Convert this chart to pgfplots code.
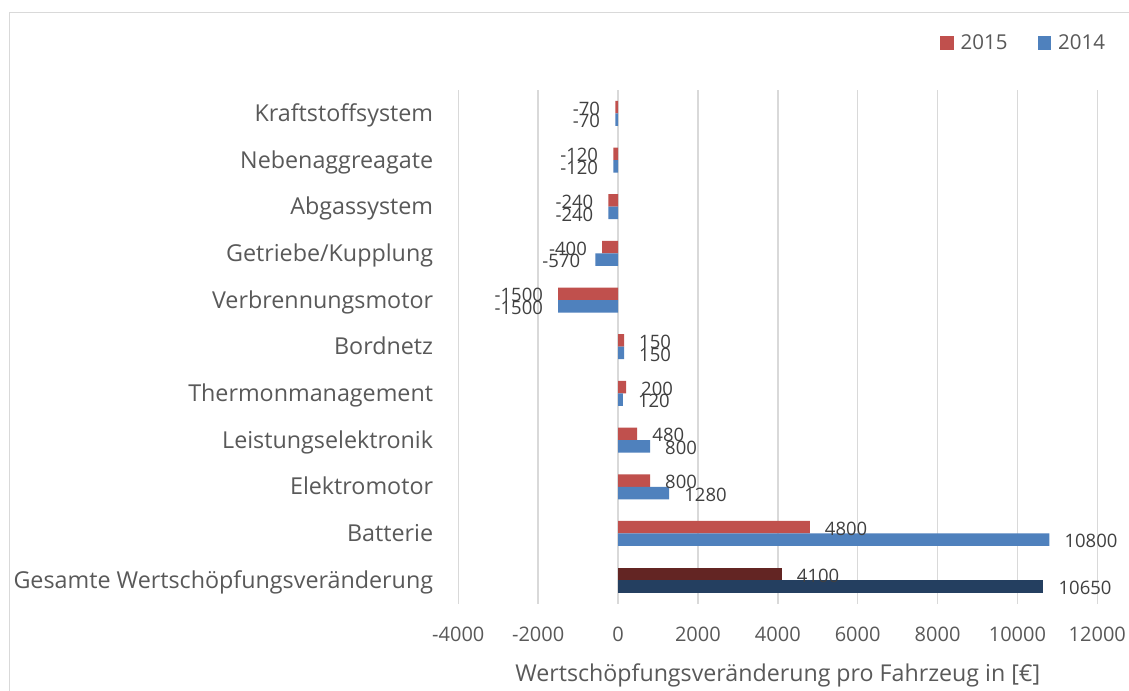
\documentclass[border=0pt]{standalone}
\usepackage{fontspec}
\setmainfont{Open Sans}
\usepackage{pgfplots}
\pgfplotsset{compat=1.18}
\definecolor{cRed}{HTML}{C0504D}
\definecolor{cBlue}{HTML}{4F81BD}
\definecolor{cDarkRed}{HTML}{632523}
\definecolor{cNavy}{HTML}{243F60}
\definecolor{gridgray}{HTML}{D9D9D9}
\definecolor{tickgray}{HTML}{595959}
\definecolor{labgray}{HTML}{404040}
\begin{document}
\begin{tikzpicture}
\useasboundingbox (0bp,0bp) rectangle (1129bp,691bp);
\fill[white] (0bp,0bp) rectangle (1129bp,691bp);
\draw[color=gridgray, line width=1.5bp] (9.5bp,-50bp) -- (9.5bp,678.5bp) -- (1200bp,678.5bp);
\begin{axis}[
  at={(458.3bp,87.5bp)}, anchor=south west,
  scale only axis, width=639bp, height=513.5bp,
  xbar, bar width=12.5bp,
  xmin=-4000, xmax=12000, ymin=-0.5, ymax=10.5,
  xtick={-4000,-2000,0,2000,4000,6000,8000,10000,12000},
  scaled x ticks=false,
  ytick={0,1,2,3,4,5,6,7,8,9,10},
  yticklabels={Gesamte Wertschöpfungsveränderung, Batterie, Elektromotor, Leistungselektronik, Thermonmanagement, Bordnetz, Verbrennungsmotor, Getriebe/Kupplung, Abgassystem, Nebenaggreagate, Kraftstoffsystem},
  axis line style={draw=none},
  major tick length=0pt,
  xmajorgrids, ymajorgrids=false,
  grid style={color=gridgray, line width=1.5bp},
  /pgf/number format/assume math mode=true,
  /pgf/number format/1000 sep={},
  xticklabel style={font=\fontsize{20bp}{24bp}\selectfont, text=tickgray, anchor=base, yshift=-38.2bp},
  yticklabel style={font=\fontsize{23.3bp}{27bp}\selectfont, text=tickgray, anchor=base east, inner xsep=0pt, xshift=-25bp, yshift=-8bp},
  xlabel={Wertschöpfungsveränderung pro Fahrzeug in [€]},
  xlabel style={font=\fontsize{23.2bp}{27bp}\selectfont, text=tickgray, anchor=base, at={(axis description cs:0.5,0)}, yshift=-77.5bp},
  nodes near coords={\pgfmathprintnumber[assume math mode=true,1000 sep={}]{\pgfplotspointmeta}},
  nodes near coords align={horizontal},
  every node near coord/.append style={font=\fontsize{18.5bp}{22bp}\selectfont, text=labgray, inner xsep=15bp, yshift=-1.5bp},
  legend style={at={(rel axis cs:0.7538,1.0917)}, anchor=west, draw=none, fill=none, inner sep=0pt, outer sep=0pt, font=\fontsize{20.5bp}{24bp}\selectfont, text=tickgray, legend columns=2, /tikz/every even column/.append style={column sep=28bp}, /tikz/every odd column/.append style={column sep=5bp}},
  legend cell align=left,
  legend image code/.code={\fill (0bp,-6.85bp) rectangle (13.7bp,6.85bp);},
]
\addplot[fill=cRed, draw=none, bar shift=6.25bp] coordinates {
 (4800,1) (800,2) (480,3) (200,4) (150,5) (-1500,6) (-400,7) (-240,8) (-120,9) (-70,10)};
\addlegendentry{2015}
\addplot[fill=cBlue, draw=none, bar shift=-6.25bp] coordinates {
 (10800,1) (1280,2) (800,3) (120,4) (150,5) (-1500,6) (-570,7) (-240,8) (-120,9) (-70,10)};
\addlegendentry{2014}
\addplot[fill=cDarkRed, draw=none, bar shift=6.25bp, forget plot] coordinates {(4100,0)};
\addplot[fill=cNavy, draw=none, bar shift=-6.25bp, forget plot] coordinates {(10650,0)};
\end{axis}
\end{tikzpicture}
\end{document}
